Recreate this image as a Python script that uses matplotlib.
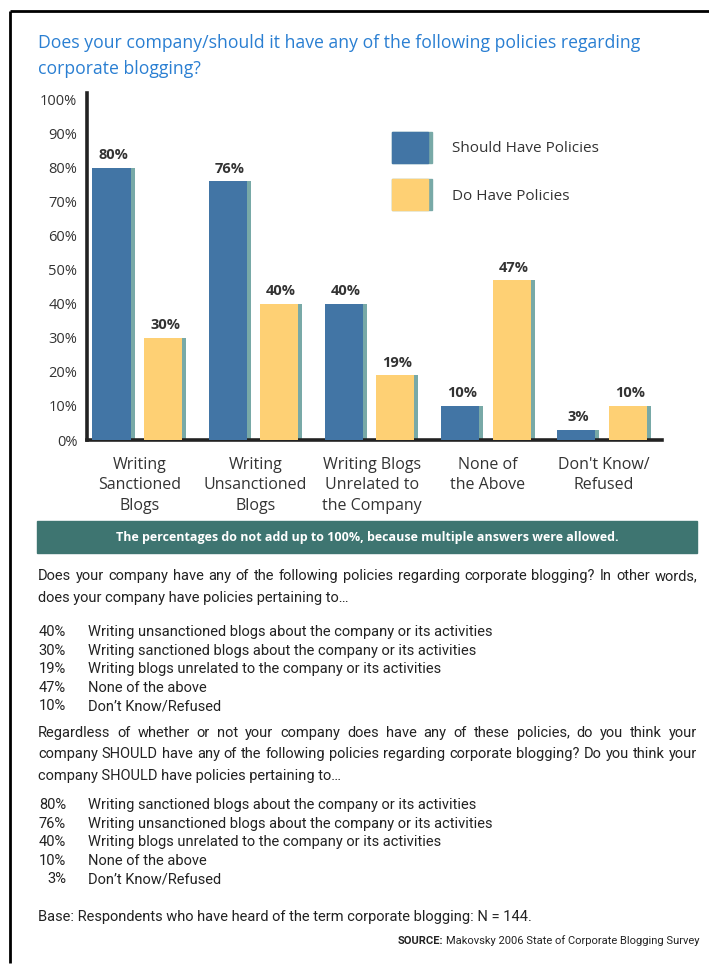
import matplotlib
matplotlib.use("Agg")
import matplotlib.pyplot as plt
from matplotlib.patches import Rectangle
import numpy as np

categories = ["Writing\nSanctioned\nBlogs", "Writing\nUnsanctioned\nBlogs",
              "Writing Blogs\nUnrelated to\nthe Company", "None of\nthe Above",
              "Don't Know/\nRefused"]
should_have = [80, 76, 40, 10, 3]
do_have = [30, 40, 19, 47, 10]
series_names = ["Should Have Policies", "Do Have Policies"]
yticks = [0, 10, 20, 30, 40, 50, 60, 70, 80, 90, 100]

item_text = ["Writing sanctioned blogs about the company or its activities",
             "Writing unsanctioned blogs about the company or its activities",
             "Writing blogs unrelated to the company or its activities",
             "None of the above",
             "Don\u2019t Know/Refused"]
do_order = [1, 0, 2, 3, 4]
should_order = [0, 1, 2, 3, 4]

title = ("Does your company/should it have any of the following policies regarding\n"
         "corporate blogging?")
note = "The percentages do not add up to 100%, because multiple answers were allowed."
para1 = ["Does your company have any of the following policies regarding corporate blogging? In other words,",
         "does your company have policies pertaining to\u2026"]
para2 = ["Regardless of whether or not your company does have any of these policies, do you think your",
         "company SHOULD have  any of the following policies regarding corporate blogging? Do you think your",
         "company SHOULD have policies pertaining to\u2026"]
base = "Base: Respondents who have heard of the term corporate blogging: N = 144."

BLUE = "#4275a5"
YELLOW = "#fed074"
SHADOW = "#78a9a7"
TEAL = "#3e7571"
DARK = "#333333"
SANS = ["Open Sans", "DejaVu Sans"]
BODY = ["Roboto", "DejaVu Sans"]

W, H = 709, 965
fig = plt.figure(figsize=(W / 100, H / 100), dpi=100)

# full-figure axes in pixel units for the frame and text blocks
bg = fig.add_axes([0, 0, 1, 1], zorder=0)
bg.set_xlim(0, W)
bg.set_ylim(H, 0)
bg.axis("off")

bg.plot([10, W], [11, 11], color="black", lw=2, solid_capstyle="butt")
bg.plot([10, 10], [11, 963], color="black", lw=2, solid_capstyle="butt")

bg.text(38, 56, title, color="#2a7fd2", fontsize=12.7, family=SANS,
        va="center", linespacing=1.5)

# bar chart
ax = fig.add_axes([87 / W, 1 - 440 / H, (662 - 87) / W, (440 - 93) / H], zorder=1)
ax.patch.set_alpha(0)
x = np.arange(len(categories))
full_w = 0.362
main_w = 0.328
off = 0.222
for vals, col, sign in [(should_have, BLUE, -1), (do_have, YELLOW, 1)]:
    left = x + sign * off - full_w / 2
    ax.bar(left, vals, width=full_w, align="edge", color=SHADOW, zorder=2)
    bars = ax.bar(left, vals, width=main_w, align="edge", color=col, zorder=3)
    for b, v in zip(bars, vals):
        ax.annotate(f"{v}%", (b.get_x() + full_w / 2, v), xytext=(0, 4),
                    textcoords="offset points", ha="center", va="bottom",
                    fontsize=10.5, fontweight="bold", color=DARK, family=SANS)

ax.set_xlim(-0.45, 4.5)
ax.set_ylim(0, 102)
ax.set_yticks(yticks)
ax.set_yticklabels([f"{t}%" for t in yticks], family=SANS, fontsize=10.5, color=DARK)
ax.set_xticks(x)
ax.set_xticklabels(categories, family=SANS, fontsize=11.5, color=DARK, linespacing=1.4)
ax.tick_params(axis="both", length=0)
ax.tick_params(axis="y", pad=7)
ax.tick_params(axis="x", pad=12)
for s in ["top", "right"]:
    ax.spines[s].set_visible(False)
for s in ["left", "bottom"]:
    ax.spines[s].set_linewidth(2.6)
    ax.spines[s].set_color("#222222")

# legend drawn as swatches
for (y0, col, name) in [(132, BLUE, series_names[0]), (179, YELLOW, series_names[1])]:
    bg.add_patch(Rectangle((392, y0), 40, 31, color=SHADOW, zorder=1))
    bg.add_patch(Rectangle((392, y0), 36, 31, color=col, zorder=2))
    bg.text(452, y0 + 17, name, fontsize=11, family=SANS, color=DARK, va="center")

# note banner
bg.add_patch(Rectangle((37, 521), 660, 32, color=TEAL))
bg.text(367, 537, note, color="white", fontsize=9, fontweight="bold",
        family=SANS, ha="center", va="center")

renderer = fig.canvas.get_renderer()


def justify(line, x0, x1, y, **kw):
    words = line.split()
    arts = [bg.text(x0, y, w, va="center", **kw) for w in words]
    widths = [a.get_window_extent(renderer).width for a in arts]
    gap = (x1 - x0 - sum(widths)) / (len(words) - 1)
    pos = x0
    for a, w in zip(arts, widths):
        a.set_x(pos)
        pos += w + gap


body = dict(fontsize=10.5, family=BODY, color="#222222")

justify(para1[0], 38, 697, 576, **body)
bg.text(38, 598, para1[1], va="center", **body)

for row, i in enumerate(do_order):
    y = 632 + row * 18.6
    bg.text(66, y, f"{do_have[i]}%", ha="right", va="center", **body)
    bg.text(88, y, item_text[i], va="center", **body)

justify(para2[0], 38, 697, 733, **body)
justify(para2[1], 38, 697, 754, **body)
bg.text(38, 776, para2[2], va="center", **body)

for row, i in enumerate(should_order):
    y = 805 + row * 18.6
    bg.text(66, y, f"{should_have[i]}%", ha="right", va="center", **body)
    bg.text(88, y, item_text[i], va="center", **body)

bg.text(38, 917, base, va="center", **body)
src = bg.text(700, 941, "Makovsky 2006 State of Corporate Blogging Survey", ha="right",
              va="center", fontsize=8, family=BODY, color="#222222")
sw = src.get_window_extent(renderer).width
bg.text(700 - sw - 3, 941, "SOURCE:", ha="right", va="center", fontsize=8,
        fontweight="bold", family=BODY, color="#222222")

fig.savefig("out.png", dpi=100)
